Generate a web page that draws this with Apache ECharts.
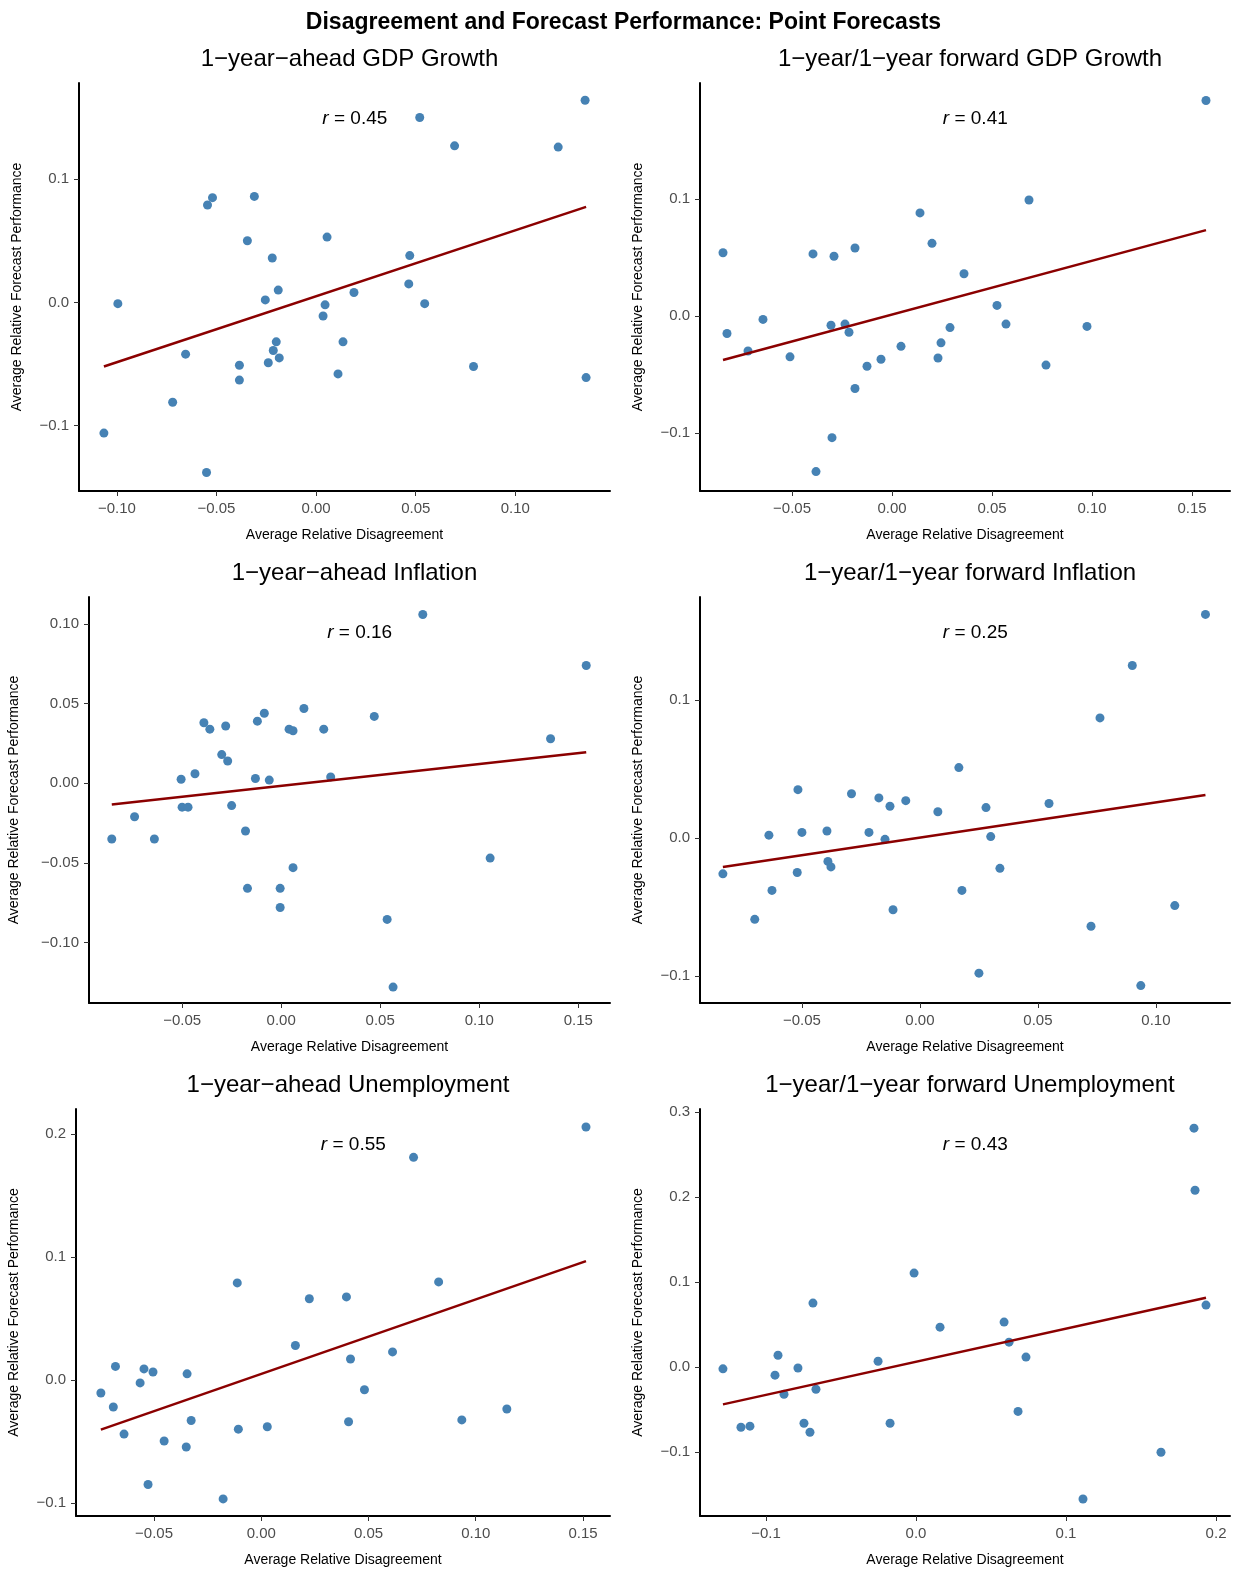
<!DOCTYPE html>
<html>
<head>
<meta charset="utf-8">
<script src="https://cdn.jsdelivr.net/npm/echarts@6/dist/echarts.min.js"></script>
<style>
  html, body { margin: 0; padding: 0; background: #fff; }
  #chart { width: 1247px; height: 1577px; }
</style>
</head>
<body>
<div id="chart"></div>
<script>
// panel titles and correlations
const panelTitles = [
    "1\u2212year\u2212ahead GDP Growth", "1\u2212year/1\u2212year forward GDP Growth",
    "1\u2212year\u2212ahead Inflation", "1\u2212year/1\u2212year forward Inflation",
    "1\u2212year\u2212ahead Unemployment", "1\u2212year/1\u2212year forward Unemployment",
];
const rValues = ["0.45", "0.41", "0.16", "0.25", "0.55", "0.43"];

// [disagreement, performance]
const gdpAhead = [
    [-0.1065, -0.106], [-0.0995, -0.001], [-0.072, -0.081], [-0.0655, -0.042], [-0.055, -0.138],
    [-0.0545, 0.079], [-0.052, 0.085], [-0.0385, -0.051], [-0.0385, -0.063], [-0.0345, 0.050],
    [-0.031, 0.086], [-0.0255, 0.002], [-0.024, -0.049], [-0.022, 0.036], [-0.0215, -0.039],
    [-0.02, -0.032], [-0.019, 0.010], [-0.0185, -0.045], [0.0035, -0.011], [0.0045, -0.002],
    [0.0055, 0.053], [0.011, -0.058], [0.0135, -0.032], [0.019, 0.008], [0.0465, 0.015],
    [0.047, 0.038], [0.052, 0.150], [0.0545, -0.001], [0.0695, 0.127], [0.079, -0.052],
    [0.1215, 0.126], [0.135, 0.164], [0.1355, -0.061],
];
const gdpForward = [
    [-0.0845, 0.054], [-0.0825, -0.015], [-0.072, -0.030], [-0.0645, -0.003], [-0.051, -0.035],
    [-0.0395, 0.053], [-0.038, -0.133], [-0.0305, -0.008], [-0.03, -0.104], [-0.029, 0.051],
    [-0.0235, -0.007], [-0.0215, -0.014], [-0.0185, 0.058], [-0.0185, -0.062], [-0.0125, -0.043],
    [-0.0055, -0.037], [0.0045, -0.026], [0.014, 0.088], [0.020, 0.062], [0.023, -0.036],
    [0.0245, -0.023], [0.029, -0.010], [0.036, 0.036], [0.0525, 0.009], [0.057, -0.007],
    [0.0685, 0.099], [0.077, -0.042], [0.0975, -0.009], [0.157, 0.184],
];
const inflAhead = [
    [-0.0855, -0.035], [-0.074, -0.021], [-0.064, -0.035], [-0.0505, 0.0025], [-0.050, -0.015],
    [-0.047, -0.015], [-0.0435, 0.006], [-0.039, 0.038], [-0.036, 0.034], [-0.030, 0.018],
    [-0.028, 0.036], [-0.027, 0.014], [-0.025, -0.014], [-0.018, -0.030], [-0.017, -0.066],
    [-0.013, 0.003], [-0.012, 0.039], [-0.0085, 0.044], [-0.006, 0.002], [-0.0005, -0.066],
    [-0.0005, -0.078], [0.004, 0.034], [0.006, 0.033], [0.006, -0.053], [0.0115, 0.047],
    [0.0215, 0.034], [0.025, 0.004], [0.047, 0.042], [0.0535, -0.0855], [0.0565, -0.128],
    [0.0715, 0.106], [0.1055, -0.047], [0.136, 0.028], [0.154, 0.074],
];
const inflForward = [
    [-0.0835, -0.026], [-0.070, -0.059], [-0.064, 0.002], [-0.0627, -0.038], [-0.052, -0.025],
    [-0.0517, 0.035], [-0.050, 0.004], [-0.0394, 0.005], [-0.039, -0.017], [-0.0377, -0.021],
    [-0.029, 0.032], [-0.0216, 0.004], [-0.0174, 0.029], [-0.0148, -0.001], [-0.0127, 0.023],
    [-0.0114, -0.052], [-0.006, 0.027], [0.0076, 0.019], [0.0165, 0.051], [0.0178, -0.038],
    [0.028, 0.022], [0.025, -0.098], [0.030, 0.001], [0.0339, -0.022], [0.0547, 0.025],
    [0.0725, -0.064], [0.0763, 0.087], [0.090, 0.125], [0.0936, -0.107], [0.108, -0.049],
    [0.121, 0.162],
];
const unempAhead = [
    [-0.0748, -0.0106], [-0.069, -0.022], [-0.068, 0.011], [-0.064, -0.044], [-0.0565, -0.0024],
    [-0.0547, 0.009], [-0.0528, -0.085], [-0.0505, 0.0065], [-0.0453, -0.0496], [-0.035, -0.0545],
    [-0.0346, 0.005], [-0.0327, -0.033], [-0.0178, -0.0967], [-0.0112, 0.0789], [-0.0107, -0.040],
    [0.0028, -0.038], [0.0159, 0.028], [0.0224, 0.066], [0.0397, 0.0675], [0.0407, -0.034],
    [0.0416, 0.017], [0.0481, -0.008], [0.0612, 0.0228], [0.071, 0.181], [0.0827, 0.0797],
    [0.0935, -0.0325], [0.1145, -0.0236], [0.1514, 0.2057],
];
const unempForward = [
    [-0.1287, -0.002], [-0.1167, -0.0706], [-0.1107, -0.0694], [-0.094, -0.0094], [-0.092, 0.014],
    [-0.088, -0.0318], [-0.0787, -0.001], [-0.0747, -0.066], [-0.0707, -0.0765], [-0.0687, 0.0753],
    [-0.0667, -0.026], [-0.0253, 0.007], [-0.0173, -0.066], [-0.0013, 0.1106], [0.016, 0.047],
    [0.0587, 0.053], [0.062, 0.0294], [0.068, -0.052], [0.0733, 0.0118], [0.1113, -0.155],
    [0.1633, -0.1], [0.1853, 0.281], [0.186, 0.208], [0.1933, 0.073],
];
const panelData = [gdpAhead, gdpForward, inflAhead, inflForward, unempAhead, unempForward];

// tick labels per panel
const xTicks = [
    [-0.10, -0.05, 0.00, 0.05, 0.10],
    [-0.05, 0.00, 0.05, 0.10, 0.15],
    [-0.05, 0.00, 0.05, 0.10, 0.15],
    [-0.05, 0.00, 0.05, 0.10],
    [-0.05, 0.00, 0.05, 0.10, 0.15],
    [-0.1, 0.0, 0.1, 0.2],
];
const yTicks = [
    [-0.1, 0.0, 0.1],
    [-0.1, 0.0, 0.1],
    [-0.10, -0.05, 0.00, 0.05, 0.10],
    [-0.1, 0.0, 0.1],
    [-0.1, 0.0, 0.1, 0.2],
    [-0.1, 0.0, 0.1, 0.2, 0.3],
];
const xDecimals = [2, 2, 2, 2, 2, 1];
const yDecimals = [1, 1, 2, 1, 1, 1];

// layout (px) and axis extents
const grids = [
    { left: 79, top: 83, width: 531, height: 408, x: [-0.119, 0.1475], y: [-0.153, 0.178] },
    { left: 700, top: 83, width: 530, height: 408, x: [-0.096, 0.169], y: [-0.1496, 0.199] },
    { left: 89, top: 597, width: 521, height: 406, x: [-0.097, 0.166], y: [-0.138, 0.117] },
    { left: 700, top: 597, width: 530, height: 406, x: [-0.0932, 0.1314], y: [-0.1196, 0.1746] },
    { left: 76, top: 1109, width: 534, height: 407, x: [-0.0864, 0.1626], y: [-0.1106, 0.2203] },
    { left: 700, top: 1109, width: 530, height: 407, x: [-0.144, 0.2093], y: [-0.175, 0.3035] },
];

function fit(points) {
    const n = points.length;
    const mx = points.reduce((s, p) => s + p[0], 0) / n;
    const my = points.reduce((s, p) => s + p[1], 0) / n;
    let sxy = 0, sxx = 0;
    points.forEach(([x, y]) => { sxy += (x - mx) * (y - my); sxx += (x - mx) ** 2; });
    const b = sxy / sxx;
    const a = my - b * mx;
    const xs = points.map((p) => p[0]);
    const x0 = Math.min(...xs), x1 = Math.max(...xs);
    return [[x0, a + b * x0], [x1, a + b * x1]];
}

const fmt = (d) => (v) => v.toFixed(d).replace("-", "\u2212");
const labelColor = "#4d4d4d";
const font = "Liberation Sans, Arial, sans-serif";

const option = {
    backgroundColor: "#fff",
    animation: false,
    textStyle: { fontFamily: font },
    title: [
        {
            text: "Disagreement and Forecast Performance: Point Forecasts",
            left: "center", top: 6,
            textStyle: { fontSize: 23, fontWeight: "bold", color: "#000", fontFamily: font },
        },
    ],
    grid: [], xAxis: [], yAxis: [], series: [],
};

grids.forEach((g, i) => {
    const cx = g.left + g.width / 2;
    option.grid.push({ left: g.left, top: g.top, width: g.width, height: g.height });
    option.title.push({
        text: panelTitles[i], left: cx, top: g.top - 41, textAlign: "center",
        textStyle: { fontSize: 24, fontWeight: "normal", color: "#000", fontFamily: font },
    });
    option.title.push({
        text: "{i|r} = " + rValues[i], left: g.left + g.width * 0.51, top: g.top + 21, textAlign: "center",
        textStyle: {
            fontSize: 19, fontWeight: "normal", color: "#000", fontFamily: font,
            rich: { i: { fontStyle: "italic", fontSize: 19, fontFamily: font } },
        },
    });
    option.xAxis.push({
        type: "value", gridIndex: i, min: g.x[0], max: g.x[1],
        name: "Average Relative Disagreement", nameLocation: "middle", nameGap: 37,
        nameTextStyle: { fontSize: 14, color: "#000" },
        axisLine: { onZero: false, lineStyle: { color: "#000", width: 2 } },
        axisTick: { show: true, length: 5, lineStyle: { color: "#333" }, customValues: xTicks[i] },
        axisLabel: { color: labelColor, fontSize: 15, customValues: xTicks[i], formatter: fmt(xDecimals[i]), margin: 10 },
        splitLine: { show: false },
    });
    option.yAxis.push({
        type: "value", gridIndex: i, min: g.y[0], max: g.y[1],
        name: "Average Relative Forecast Performance", nameLocation: "middle", nameGap: yDecimals[i] === 2 ? 68 : 55,
        nameTextStyle: { fontSize: 14, color: "#000" },
        axisLine: { show: true, onZero: false, lineStyle: { color: "#000", width: 2 } },
        axisTick: { show: true, length: 5, lineStyle: { color: "#333" }, customValues: yTicks[i] },
        axisLabel: { color: labelColor, fontSize: 15, customValues: yTicks[i], formatter: fmt(yDecimals[i]), margin: 10 },
        splitLine: { show: false },
    });
    option.series.push({
        type: "scatter", xAxisIndex: i, yAxisIndex: i, data: panelData[i],
        symbolSize: 9, itemStyle: { color: "#4682b4", opacity: 1 },
    });
    option.series.push({
        type: "line", xAxisIndex: i, yAxisIndex: i, data: fit(panelData[i]),
        symbol: "none", lineStyle: { color: "#8b0000", width: 2.5 }, z: 3,
    });
});

const chart = echarts.init(document.getElementById("chart"));
chart.setOption(option);
</script>
</body>
</html>
